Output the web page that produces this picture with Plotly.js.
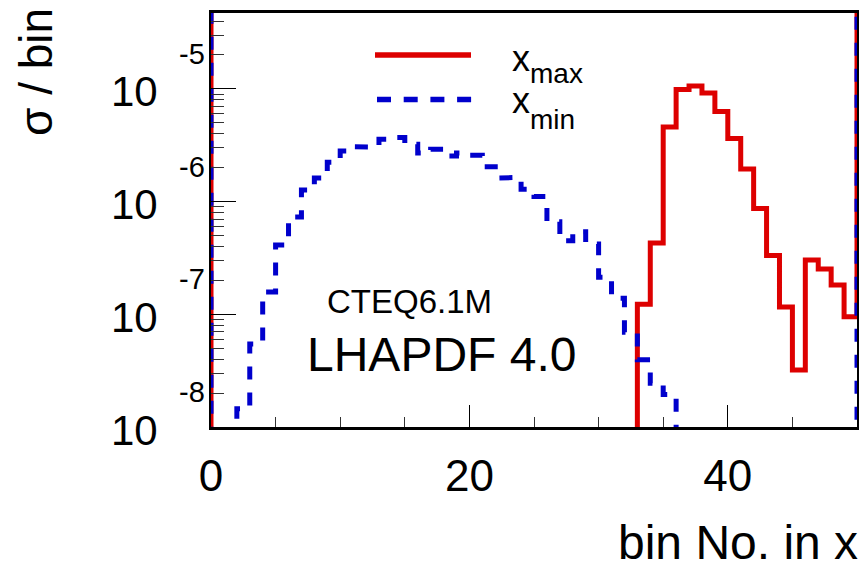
<!DOCTYPE html>
<html>
<head>
<meta charset="utf-8">
<script src="https://cdn.plot.ly/plotly-3.0.1.min.js"></script>
<style>html,body{margin:0;padding:0;background:#fff;}#chart{width:861px;height:568px;}</style>
</head>
<body>
<div id="chart"></div>
<script>
// ---- data (sigma per bin, 50 bins of "bin No. in x", 0..50) ----
const binRange = [0, 50];
const xmaxValues = [
  0, 0, 0, 0, 0, 0, 0, 0, 0, 0,
  0, 0, 0, 0, 0, 0, 0, 0, 0, 0,
  0, 0, 0, 0, 0, 0, 0, 0, 0, 0,
  0, 0, 0, 1.23e-7, 4.30e-7, 4.59e-6, 9.9e-6, 1.06e-5, 9.2e-6, 6.3e-6,
  3.63e-6, 1.95e-6, 8.7e-7, 3.33e-7, 1.16e-7, 3.2e-8, 3.03e-7, 2.52e-7, 1.82e-7, 9.5e-8
];
const xminValues = [
  0, 0, 1.45e-8, 5.45e-8, 1.58e-7, 4.12e-7, 7.3e-7, 1.27e-6, 1.62e-6, 2.24e-6,
  2.81e-6, 3.07e-6, 3.05e-6, 3.57e-6, 3.71e-6, 3.22e-6, 2.70e-6, 2.91e-6, 2.54e-6, 2.70e-6,
  2.58e-6, 2.04e-6, 1.62e-6, 1.64e-6, 1.29e-6, 1.11e-6, 6.64e-7, 4.50e-7, 5.41e-7, 4.21e-7,
  2.13e-7, 1.39e-7, 6.92e-8, 3.95e-8, 2.44e-8, 1.94e-8, 0, 0, 0, 0,
  0, 0, 0, 0, 0, 0, 0, 0, 0, 0
];
const xTickVals = [0, 20, 40];
const xTickText = ['0', '20', '40'];
const yTickExponents = [-8, -7, -6, -5];
const yTickBase = '10';
const legendMain = ['x', 'x'];
const legendSub = ['max', 'min'];
const textLines = ['CTEQ6.1M', 'LHAPDF 4.0'];
const xTitle = 'bin No. in x';
const yTitle = 'σ / bin';

// ---- helpers ----
const FONT = 'Liberation Sans, Arial, Helvetica, sans-serif';
const RED = '#dd0000', BLUE = '#0000cc';
const M = {l: 211, r: 4, t: 13, b: 141};
const W = 861, H = 568;
const PW = W - M.l - M.r, PH = H - M.t - M.b;
const px = x => (x - M.l) / PW;
const py = y => (M.t + PH - y) / PH;
const yRange = [-8, -8 + PH / 112.7];
const FLOOR = 1e-12, CEIL = 1e-2;

const nBins = xminValues.length;
const binW = (binRange[1] - binRange[0]) / nBins;
const edges = Array.from({length: nBins + 1}, (_, i) => binRange[0] + i * binW);

function stepPath(values) {
  const xs = [edges[0]], ys = [CEIL];
  values.forEach((v, i) => {
    const y = v > 0 ? v : FLOOR;
    xs.push(edges[i], edges[i + 1]);
    ys.push(y, y);
  });
  xs.push(edges[nBins]); ys.push(CEIL);
  return {xs, ys};
}

const pMax = stepPath(xmaxValues);
const pMin = stepPath(xminValues);

const traces = [
  {x: pMax.xs, y: pMax.ys, type: 'scatter', mode: 'lines', name: 'x_max',
   line: {color: RED, width: 5, shape: 'linear'}, hoverinfo: 'skip', showlegend: false},
  {x: pMin.xs, y: pMin.ys, type: 'scatter', mode: 'lines', name: 'x_min',
   line: {color: BLUE, width: 5, dash: '13px,13px', shape: 'linear'}, hoverinfo: 'skip', showlegend: false}
];

// minor log ticks
const minorY = [];
for (let e = -9; e <= -4; e++) for (let d = 2; d <= 9; d++) minorY.push(d * Math.pow(10, e));

const annotations = [];
yTickExponents.forEach(e => {
  annotations.push({xref: 'paper', x: 0, xanchor: 'right', xshift: -51, yref: 'y', y: e, yanchor: 'middle', yshift: -3,
    text: yTickBase, showarrow: false, font: {family: FONT, size: 42, color: '#000'}});
  annotations.push({xref: 'paper', x: 0, xanchor: 'right', xshift: -4, yref: 'y', y: e, yanchor: 'middle', yshift: 35,
    text: String(e), showarrow: false, font: {family: FONT, size: 29, color: '#000'}});
});
// axis titles
annotations.push({xref: 'paper', yref: 'paper', x: px(860), y: py(542), xanchor: 'right', yanchor: 'middle',
  text: xTitle, showarrow: false, font: {family: FONT, size: 48, color: '#000'}});
annotations.push({xref: 'paper', yref: 'paper', x: px(36), y: py(72), xanchor: 'center', yanchor: 'middle', textangle: -90,
  text: yTitle, showarrow: false, font: {family: FONT, size: 46, color: '#000'}});
// labels
annotations.push({xref: 'paper', yref: 'paper', x: px(409.5), y: py(301), xanchor: 'center', yanchor: 'middle',
  text: textLines[0], showarrow: false, font: {family: FONT, size: 33, color: '#000'}});
annotations.push({xref: 'paper', yref: 'paper', x: px(441.5), y: py(354), xanchor: 'center', yanchor: 'middle',
  text: textLines[1], showarrow: false, font: {family: FONT, size: 48, color: '#000'}});
// legend text
const legY = [[58, 73.6], [101, 119]];
legendMain.forEach((t, i) => {
  annotations.push({xref: 'paper', yref: 'paper', x: px(509.5), y: py(legY[i][0]), xanchor: 'left', yanchor: 'middle',
    text: t, showarrow: false, font: {family: FONT, size: 36, color: '#000'}});
  annotations.push({xref: 'paper', yref: 'paper', x: px(528), y: py(legY[i][1]), xanchor: 'left', yanchor: 'middle',
    text: legendSub[i], showarrow: false, font: {family: FONT, size: 28, color: '#000'}});
});

const shapes = [
  {type: 'line', xref: 'paper', yref: 'paper', x0: px(375), x1: px(471), y0: py(55), y1: py(55),
   line: {color: RED, width: 5.5}},
  {type: 'line', xref: 'paper', yref: 'paper', x0: px(377), x1: px(472), y0: py(99.5), y1: py(99.5),
   line: {color: BLUE, width: 5.5, dash: '14px,12.7px'}}
];

const layout = {
  width: W, height: H,
  margin: M,
  paper_bgcolor: '#fff', plot_bgcolor: '#fff',
  showlegend: false,
  font: {family: FONT, color: '#000'},
  xaxis: {
    range: binRange, tickmode: 'array', tickvals: xTickVals, ticktext: xTickText,
    ticks: 'inside', ticklen: 22, tickwidth: 1, tickcolor: '#000',
    showline: true, linewidth: 3, linecolor: '#000', mirror: true,
    showgrid: false, zeroline: false,
    tickfont: {family: FONT, size: 44, color: '#000'},
    ticklabelstandoff: 8,
    minor: {tick0: 0, dtick: 5, ticks: 'inside', ticklen: 10, tickwidth: 1, tickcolor: '#333', showgrid: false}
  },
  yaxis: {
    type: 'log', range: yRange, tickmode: 'linear', tick0: 0, dtick: 1,
    ticks: 'inside', ticklen: 25, tickwidth: 1, tickcolor: '#000',
    showticklabels: false,
    showline: true, linewidth: 2, linecolor: '#000', mirror: true,
    showgrid: false, zeroline: false,
    minor: {tickmode: 'array', tickvals: minorY, ticks: 'inside', ticklen: 13, tickwidth: 1, tickcolor: '#333', showgrid: false}
  },
  annotations: annotations,
  shapes: shapes
};

Plotly.newPlot('chart', traces, layout, {displayModeBar: false, staticPlot: true});
</script>
</body>
</html>
